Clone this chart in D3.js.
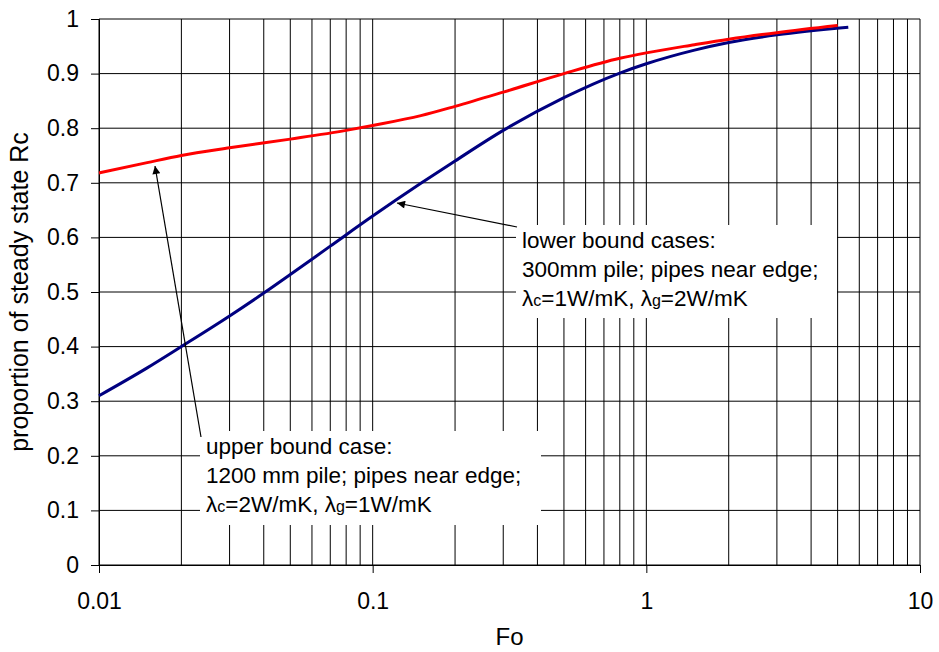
<!DOCTYPE html>
<html>
<head>
<meta charset="utf-8">
<script src="https://cdn.jsdelivr.net/npm/d3@7"></script>
<style>
  body { margin: 0; background: #fff; }
  text { font-family: "Liberation Sans", Arial, sans-serif; fill: #000; }
</style>
</head>
<body>
<div id="chart"></div>
<script>
// upper bound case (red)
var upperFo = [0.01, 0.015, 0.02, 0.03, 0.05, 0.08, 0.1, 0.15, 0.2, 0.3, 0.5, 0.8, 1, 1.5, 2, 3, 5];
var upperRc = [0.718, 0.737, 0.750, 0.764, 0.780, 0.796, 0.805, 0.823, 0.840, 0.866, 0.900, 0.928, 0.938, 0.953, 0.963, 0.975, 0.988];
// lower bound cases (blue)
var lowerFo = [0.01, 0.015, 0.02, 0.03, 0.04, 0.05, 0.07, 0.1, 0.15, 0.2, 0.3, 0.5, 0.8, 1, 1.5, 2, 3, 5.47];
var lowerRc = [0.310, 0.361, 0.400, 0.456, 0.498, 0.532, 0.584, 0.639, 0.699, 0.740, 0.796, 0.856, 0.901, 0.918, 0.943, 0.957, 0.971, 0.985];

var xTicks = [0.01, 0.1, 1, 10];
var yTicks = [0, 0.1, 0.2, 0.3, 0.4, 0.5, 0.6, 0.7, 0.8, 0.9, 1];

var W = 939, H = 652;
var margin = {top: 19, right: 19, bottom: 87, left: 99};
var width = W - margin.left - margin.right,
    height = H - margin.top - margin.bottom;

var svg = d3.select("#chart").append("svg")
    .attr("width", W).attr("height", H);
var g = svg.append("g")
    .attr("transform", "translate(" + margin.left + "," + margin.top + ")");

var x = d3.scaleLog().domain([0.01, 10]).range([0, width]);
var y = d3.scaleLinear().domain([0, 1]).range([height, 0]);

// vertical grid (all log minor lines)
var minor = [];
[0.01, 0.1, 1].forEach(function(d) {
  for (var k = 1; k <= 9; k++) minor.push(d * k);
});
minor.push(10);

g.selectAll(".vgrid").data(minor).enter().append("line")
    .attr("x1", function(d) { return x(d); })
    .attr("x2", function(d) { return x(d); })
    .attr("y1", 0).attr("y2", height)
    .attr("stroke", "#000").attr("stroke-width", 1);

g.selectAll(".hgrid").data(yTicks).enter().append("line")
    .attr("x1", 0).attr("x2", width)
    .attr("y1", function(d) { return y(d); })
    .attr("y2", function(d) { return y(d); })
    .attr("stroke", "#000").attr("stroke-width", 1);

// axes
var xAxis = g.append("g")
    .attr("transform", "translate(0," + height + ")")
    .call(d3.axisBottom(x).tickValues(xTicks).tickSize(8).tickPadding(20)
      .tickFormat(function(d) { return String(d); }));
var yAxis = g.append("g")
    .call(d3.axisLeft(y).tickValues(yTicks).tickSize(8).tickPadding(12)
      .tickFormat(function(d) { return String(d); }));
[xAxis, yAxis].forEach(function(a) {
  a.select(".domain").attr("stroke", "#000");
  a.selectAll(".tick line").attr("stroke", "#000");
  a.selectAll("text").style("font-family", "Liberation Sans, Arial, sans-serif")
    .style("font-size", "23px").attr("fill", "#000");
});

// annotation boxes
g.append("rect").attr("x", 516 - margin.left).attr("y", 225 - margin.top)
    .attr("width", 321).attr("height", 93).attr("fill", "#fff");
g.append("rect").attr("x", 200 - margin.left).attr("y", 431 - margin.top)
    .attr("width", 341).attr("height", 94).attr("fill", "#fff");

// curves
var line = d3.line()
    .x(function(d) { return x(d[0]); })
    .y(function(d) { return y(d[1]); })
    .curve(d3.curveMonotoneX);

g.append("path").datum(d3.zip(lowerFo, lowerRc))
    .attr("d", line).attr("fill", "none")
    .attr("stroke", "#000080").attr("stroke-width", 3);
g.append("path").datum(d3.zip(upperFo, upperRc))
    .attr("d", line).attr("fill", "none")
    .attr("stroke", "#ff0000").attr("stroke-width", 3);

// arrows
svg.append("defs").append("marker")
    .attr("id", "arr").attr("viewBox", "0 0 10 10")
    .attr("refX", 10).attr("refY", 5)
    .attr("markerWidth", 12).attr("markerHeight", 8)
    .attr("markerUnits", "userSpaceOnUse")
    .attr("orient", "auto")
  .append("path").attr("d", "M0,0L10,5L0,10Z").attr("fill", "#000");

function arrow(x1, y1, x2, y2) {
  svg.append("line")
    .attr("x1", x1).attr("y1", y1).attr("x2", x2).attr("y2", y2)
    .attr("stroke", "#000").attr("stroke-width", 1.2)
    .attr("marker-end", "url(#arr)");
}
arrow(517, 227, 397, 203);
arrow(201, 437, 155, 166);

// annotation text
function note(x0, y0, lines) {
  var t = svg.append("text").attr("x", x0).attr("y", y0)
      .style("font-size", "22.5px");
  lines.forEach(function(l, i) {
    var ts = t.append("tspan").attr("x", x0).attr("dy", i === 0 ? 0 : 29);
    if (typeof l === "string") { ts.text(l); return; }
    l.forEach(function(part, j) {
      var s = (j === 0) ? ts : t.append("tspan");
      s.text(part[0]);
      if (part[1]) s.style("font-size", "16px");
    });
  });
}
note(522, 248, [
  "lower bound cases:",
  "300mm pile; pipes near edge;",
  [["λ"], ["c", 1], ["=1W/mK, λ"], ["g", 1], ["=2W/mK"]]
]);
note(206, 454, [
  "upper bound case:",
  "1200 mm pile; pipes near edge;",
  [["λ"], ["c", 1], ["=2W/mK, λ"], ["g", 1], ["=1W/mK"]]
]);

// axis titles
svg.append("text").attr("x", margin.left + width / 2).attr("y", 645)
    .attr("text-anchor", "middle").style("font-size", "24px").text("Fo");
svg.append("text")
    .attr("transform", "translate(28," + (margin.top + height / 2) + ") rotate(-90)")
    .attr("text-anchor", "middle").style("font-size", "25px")
    .text("proportion of steady state Rc");
</script>
</body>
</html>
